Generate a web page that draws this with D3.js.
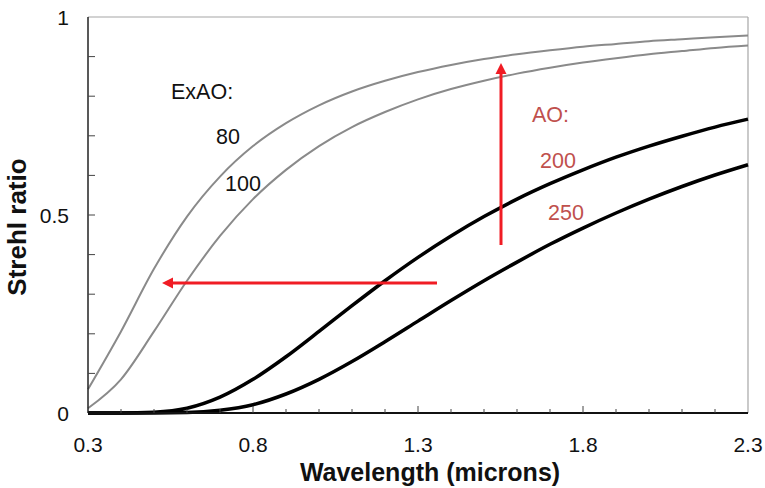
<!DOCTYPE html>
<html>
<head>
<meta charset="utf-8">
<script src="https://cdn.jsdelivr.net/npm/d3@7/dist/d3.min.js"></script>
<style>
html,body{margin:0;padding:0;background:#fff;}
svg{display:block;font-family:"Liberation Sans",Arial,sans-serif;}
</style>
</head>
<body>
<svg id="chart" width="765" height="488"></svg>
<script>
// Wavelength samples (microns)
const wavelengths = [0.3,0.4,0.5,0.6,0.7,0.8,0.9,1.0,1.1,1.2,1.3,1.4,1.5,1.6,1.7,1.8,1.9,2.0,2.1,2.2,2.3];
// Strehl ratio
const exao80  = [0.060,0.206,0.364,0.496,0.597,0.674,0.732,0.777,0.812,0.839,0.861,0.879,0.894,0.906,0.916,0.925,0.932,0.939,0.944,0.949,0.953];
const exao100 = [0.012,0.085,0.206,0.334,0.447,0.540,0.614,0.674,0.722,0.760,0.792,0.818,0.839,0.857,0.872,0.885,0.896,0.906,0.914,0.922,0.928];
const ao200   = [0.000,0.000,0.002,0.012,0.040,0.085,0.142,0.206,0.271,0.334,0.393,0.447,0.496,0.540,0.579,0.614,0.646,0.674,0.699,0.722,0.742];
const ao250   = [0.000,0.000,0.000,0.001,0.007,0.021,0.048,0.085,0.130,0.180,0.232,0.284,0.334,0.381,0.426,0.467,0.505,0.540,0.572,0.601,0.627];
const xTickLabels = [0.3,0.8,1.3,1.8,2.3];
const yTickLabels = [0,0.5,1];
const xMinorTicks = d3.range(0.3,2.301,0.1).map(v=>+v.toFixed(2));
const yMinorTicks = d3.range(0.1,0.95,0.1).map(v=>+v.toFixed(2));

const svg = d3.select("#chart");
const L=88, R=748, T=17, B=413;
const x = d3.scaleLinear().domain([0.3,2.3]).range([L,R]);
const y = d3.scaleLinear().domain([0,1]).range([B,T]);

// frame (top & right in gray)
svg.append("line").attr("x1",L).attr("x2",R).attr("y1",T).attr("y2",T).attr("stroke","#a6a6a6").attr("stroke-width",1.2);
svg.append("line").attr("x1",R).attr("x2",R).attr("y1",T).attr("y2",B).attr("stroke","#a6a6a6").attr("stroke-width",1.2);

// curves
const line = d3.line().x((d,i)=>x(wavelengths[i])).y(d=>y(d)).curve(d3.curveMonotoneX);
const series = [
  {v:exao80, c:"#8a8a8a", w:2},
  {v:exao100,c:"#8a8a8a", w:2},
  {v:ao200,  c:"#000",    w:3.5},
  {v:ao250,  c:"#000",    w:3.5}
];
series.forEach(s=>{
  svg.append("path").attr("d",line(s.v)).attr("fill","none").attr("stroke",s.c).attr("stroke-width",s.w).attr("stroke-linejoin","round");
});

// axes lines
svg.append("line").attr("x1",L).attr("x2",L).attr("y1",T).attr("y2",B).attr("stroke","#222").attr("stroke-width",1.5);
svg.append("line").attr("x1",L).attr("x2",R).attr("y1",B).attr("y2",B).attr("stroke","#111").attr("stroke-width",2);

// y ticks (inward)
svg.selectAll(".yt").data(yMinorTicks).enter().append("line")
  .attr("x1",L).attr("x2",L+7).attr("y1",d=>y(d)).attr("y2",d=>y(d)).attr("stroke","#444").attr("stroke-width",1);
// x ticks (inward)
svg.selectAll(".xt").data(xMinorTicks.filter(v=>v>0.3&&v<2.3)).enter().append("line")
  .attr("x1",d=>x(d)).attr("x2",d=>x(d)).attr("y1",B).attr("y2",d=>xTickLabels.some(t=>Math.abs(t-d)<1e-6)?B-7:B-4)
  .attr("stroke","#444").attr("stroke-width",1);

// tick labels
svg.selectAll(".yl").data(yTickLabels).enter().append("text")
  .attr("x",69).attr("y",d=>y(d)+7.5).attr("text-anchor","end")
  .attr("font-size",21).attr("fill","#111").text(d=>d);
svg.selectAll(".xl").data(xTickLabels).enter().append("text")
  .attr("x",d=>x(d)).attr("y",452).attr("text-anchor","middle")
  .attr("font-size",21).attr("fill","#111").text(d=>d.toFixed(1));

// axis titles
svg.append("text").attr("x",430).attr("y",481).attr("text-anchor","middle").attr("font-size",25).attr("font-weight","bold").attr("fill","#111").text("Wavelength (microns)");
svg.append("text").attr("transform","translate(26,227) rotate(-90)").attr("text-anchor","middle").attr("font-size",26).attr("font-weight","bold").attr("fill","#111").text("Strehl ratio");

// annotations
const ann = [
  {t:"ExAO:",x:171,y:91,c:"#111"},
  {t:"80",x:216,y:136,c:"#111"},
  {t:"100",x:225,y:183,c:"#111"},
  {t:"AO:",x:532,y:114,c:"#c0504d"},
  {t:"200",x:540,y:160,c:"#c0504d"},
  {t:"250",x:548,y:212,c:"#c0504d"}
];
svg.selectAll(".ann").data(ann).enter().append("text")
  .attr("x",d=>d.x).attr("y",d=>d.y+7.5).attr("font-size",21.5).attr("fill",d=>d.c).text(d=>d.t);

// red arrows
const red="#f01c24";
svg.append("line").attr("x1",501).attr("x2",501).attr("y1",245).attr("y2",72).attr("stroke",red).attr("stroke-width",3);
svg.append("path").attr("d","M501,63 L495.5,74 L506.5,74 Z").attr("fill",red);
svg.append("line").attr("x1",437).attr("x2",171).attr("y1",283).attr("y2",283).attr("stroke",red).attr("stroke-width",3);
svg.append("path").attr("d","M162,283 L173,277.5 L173,288.5 Z").attr("fill",red);
</script>
</body>
</html>
